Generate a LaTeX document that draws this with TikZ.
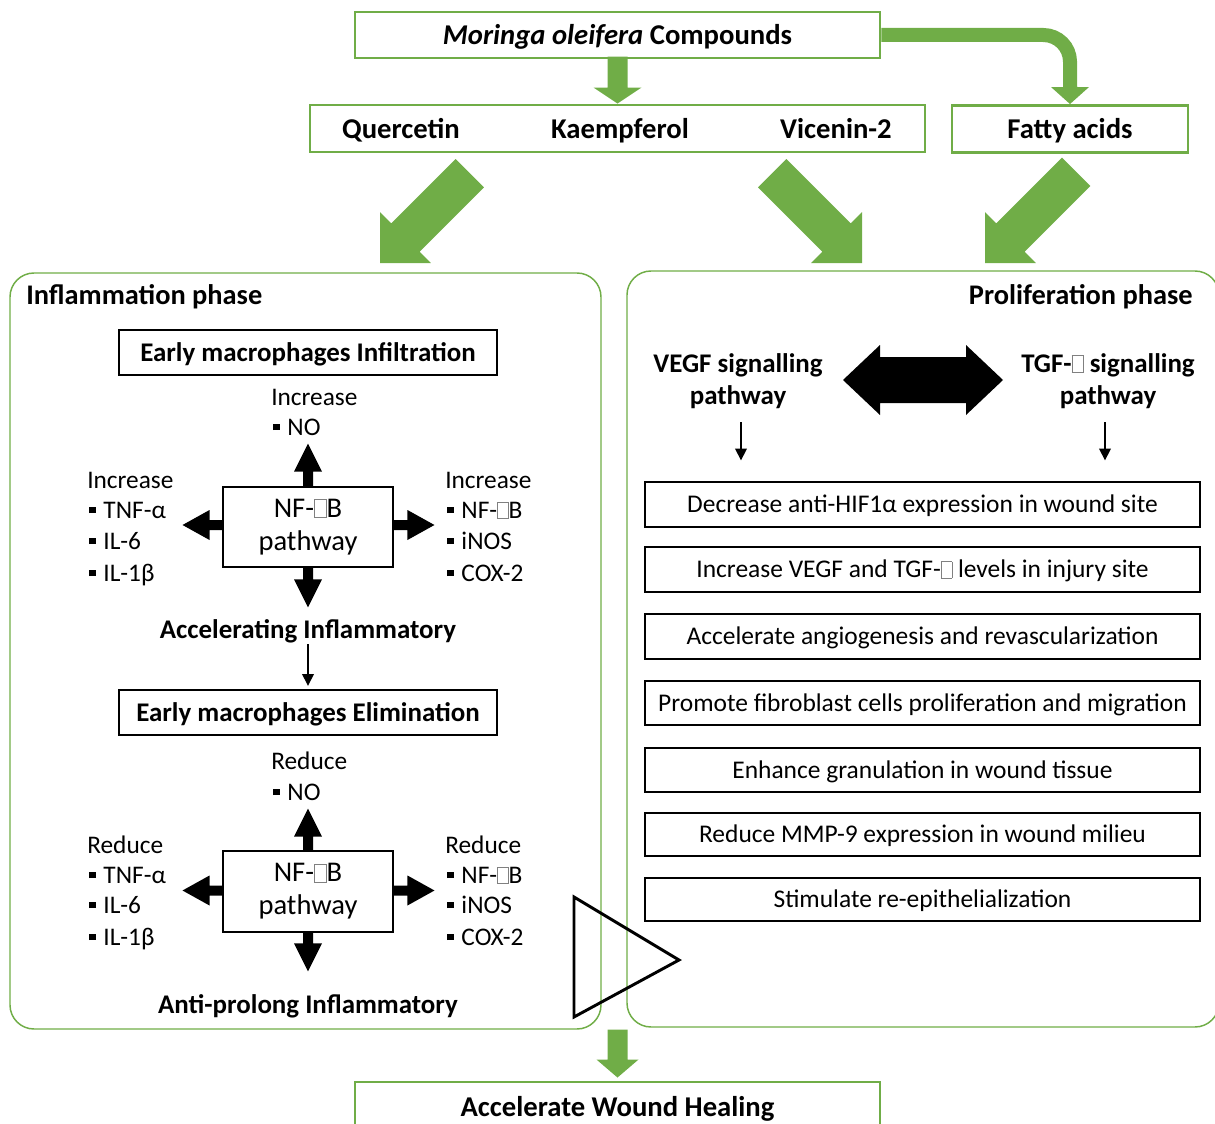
\documentclass[tikz,border=0pt]{standalone}
\usepackage{fontspec}
\setmainfont{Carlito}
\usetikzlibrary{arrows.meta,calc}
\definecolor{mgreen}{HTML}{70AD47}
\newcommand\tofu{{\fboxsep=0pt\fboxrule=0.45pt\color{gray}\fbox{\rule{0pt}{0.62em}\hspace{0.4em}}}}
\newcommand\bul{\rule[0.2em]{0.26em}{0.26em}\hspace{0.3em}}
\newcommand\barrow[7]{\begin{scope}[shift={#2},rotate=#3]\fill[#1] (0,0) -- (-#7,#6/2) -- (-#7,#5/2) -- (-#4,#5/2) -- (-#4,-#5/2) -- (-#7,-#5/2) -- (-#7,-#6/2) -- cycle;\end{scope}}
\tikzset{
  sz/.style 2 args={minimum width=#1*0.75pt, minimum height=#2*0.75pt, inner sep=0pt},
  gbox/.style={draw=mgreen, line width=2.2pt},
  bbox/.style={draw=black, line width=2.2pt},
  panel/.style={draw=mgreen, line width=1.1pt, rounded corners=18pt},
  bigb/.style={font=\fontsize{21.5pt}{25pt}\selectfont\bfseries, text height=16.1pt, text depth=2.1pt, inner sep=0pt},
  ttl/.style={font=\fontsize{21.3pt}{25pt}\selectfont\bfseries, text height=16pt, text depth=2.1pt, inner sep=0pt},
  midb/.style={font=\fontsize{20.2pt}{24pt}\selectfont\bfseries, text height=15.2pt, text depth=2pt, inner sep=0pt},
  midb2/.style={font=\fontsize{20.2pt}{24pt}\selectfont\bfseries, align=center, inner sep=0pt},
  reg/.style={font=\fontsize{19.1pt}{22pt}\selectfont, text height=14.3pt, text depth=1.9pt, inner sep=0pt},
  lst/.style={font=\fontsize{19pt}{22pt}\selectfont, text height=14.2pt, text depth=1.9pt, inner sep=0pt, anchor=west},
  nft/.style={font=\fontsize{21.4pt}{24.75pt}\selectfont, align=center},
  tarrow/.style={line width=2pt, -{Triangle[width=8.5pt,length=9pt]}},
}
\begin{document}
\begin{tikzpicture}[x=0.75pt,y=-0.75pt]
\useasboundingbox (0,0) rectangle (1215,1124);

% panels
\node[panel, sz={591}{756}] (inf) at (305.5,651) {};
\node[panel, sz={592}{756}] (pro) at (923,649) {};

% top boxes
\node[gbox, sz={525}{46}, bigb] (top) at (617.5,35) {\textit{Moringa oleifera} Compounds};
\node[gbox, sz={615}{47}] (cmp) at (617.5,128.5) {};
\node[bigb] (q) at (401,129) {Quercetin};
\node[bigb] (k) at (620,129) {Kaempferol};
\node[bigb] (v) at (836,129) {Vicenin-2};
\node[gbox, sz={236}{47}, bigb] (fat) at (1070,129) {Fatty acids};

% green connectors
\barrow{mgreen}{(cmp.north)}{270}{47}{20}{48}{16}
\draw[mgreen, line width=10.5pt, rounded corners=20pt] (top.east) -| ($(fat.north)+(0,-17)$);
\barrow{mgreen}{(fat.north)}{270}{18}{14}{38}{17}

\coordinate (t1) at (380,263);
\coordinate (t2) at (862,263);
\coordinate (t3) at (985,263);
\barrow{mgreen}{(t1)}{225}{127}{40}{72}{36}
\barrow{mgreen}{(t2)}{315}{127}{40}{72}{36}
\barrow{mgreen}{(t3)}{225}{129}{40}{72}{36}

% panel titles
\node[ttl, anchor=west] (ip) at (26,295) {Inflammation phase};
\node[ttl, anchor=east] (pp) at (1193,295) {Proliferation phase};

% inflammation block 1
\node[bbox, sz={378}{45}, midb] (emi) at (308,352.5) {Early macrophages Infiltration};
\node[lst] at (271,397) {Increase};
\node[lst] at (273,427) {\bul NO};
\node[bbox, sz={170}{80}, nft] (nf1) at (308,527) {NF-\tofu B\\pathway};
\barrow{black}{($(nf1.north)+(0,-42)$)}{90}{43}{10}{28}{28}
\barrow{black}{($(nf1.south)+(0,39)$)}{270}{40}{10}{28}{28}
\barrow{black}{($(nf1.west)+(-39,-2)$)}{180}{40}{10}{30}{27}
\barrow{black}{($(nf1.east)+(40,-2)$)}{0}{41}{10}{30}{27}
\node[lst] at (87,480) {Increase};
\node[lst] at (89,510) {\bul TNF-α};
\node[lst] at (89,541) {\bul IL-6};
\node[lst] at (89,573) {\bul IL-1β};
\node[lst] at (445,480) {Increase};
\node[lst] at (447,510) {\bul NF-\tofu B};
\node[lst] at (447,541) {\bul iNOS};
\node[lst] at (447,573) {\bul COX-2};
\node[midb] (acc) at (308,630) {Accelerating Inflammatory};
\draw[tarrow, shorten <=2pt, shorten >=3pt] (acc.south) -- (308,690);

% inflammation block 2
\node[bbox, sz={378}{45}, midb] (elim) at (308,712.5) {Early macrophages Elimination};
\node[lst] at (271,761) {Reduce};
\node[lst] at (273,792) {\bul NO};
\node[bbox, sz={170}{81}, nft] (nf2) at (308,891.5) {NF-\tofu B\\pathway};
\barrow{black}{($(nf2.north)+(0,-41)$)}{90}{42}{10}{28}{28}
\barrow{black}{($(nf2.south)+(0,38)$)}{270}{39}{10}{28}{28}
\barrow{black}{($(nf2.west)+(-39,-1)$)}{180}{40}{10}{30}{27}
\barrow{black}{($(nf2.east)+(40,-1)$)}{0}{41}{10}{30}{27}
\node[lst] at (87,845) {Reduce};
\node[lst] at (89,875) {\bul TNF-α};
\node[lst] at (89,905) {\bul IL-6};
\node[lst] at (89,937) {\bul IL-1β};
\node[lst] at (445,845) {Reduce};
\node[lst] at (447,875) {\bul NF-\tofu B};
\node[lst] at (447,905) {\bul iNOS};
\node[lst] at (447,937) {\bul COX-2};
\node[midb] (anti) at (308,1005) {Anti-prolong Inflammatory};

% big hollow triangle
\draw[line width=2.2pt, line join=miter] (574,897) -- (679,960) -- (574,1017) -- cycle;

% proliferation
\node[midb2] (vegf) at (738,381) {VEGF signalling\\pathway};
\node[midb2] (tgf) at (1108,381) {TGF-\tofu\ signalling\\pathway};
\fill (843,380) -- (880,345) -- (880,357) -- (966,357) -- (966,345) -- (1003,380) -- (966,415) -- (966,403) -- (880,403) -- (880,415) -- cycle;

\node[bbox, sz={555}{45}, reg] (b1) at (922.5,504.5) {Decrease anti-HIF1α expression in wound site};
\node[bbox, sz={555}{45}, reg] (b2) at (922.5,569.5) {Increase VEGF and TGF-\tofu\ levels in injury site};
\node[bbox, sz={555}{45}, reg] (b3) at (922.5,636.5) {Accelerate angiogenesis and revascularization};
\node[bbox, sz={555}{44}, reg] (b4) at (922.5,703) {Promote fibroblast cells proliferation and migration};
\node[bbox, sz={555}{44}, reg] (b5) at (922.5,770) {Enhance granulation in wound tissue};
\node[bbox, sz={555}{43}, reg] (b6) at (922.5,834.5) {Reduce MMP-9 expression in wound milieu};
\node[bbox, sz={555}{43}, reg] (b7) at (922.5,899.5) {Stimulate re-epithelialization};

\coordinate (va) at (741,422);
\coordinate (ta) at (1105,422);
\draw[tarrow, shorten >=15pt] (va) -- (va |- b1.north);
\draw[tarrow, shorten >=15pt] (ta) -- (ta |- b1.north);

% bottom
\node[gbox, sz={525}{50}, bigb] (heal) at (617.5,1107) {Accelerate Wound Healing};
\barrow{mgreen}{($(heal.north)+(0,-3)$)}{270}{48}{20}{42}{18}
\end{tikzpicture}
\end{document}
